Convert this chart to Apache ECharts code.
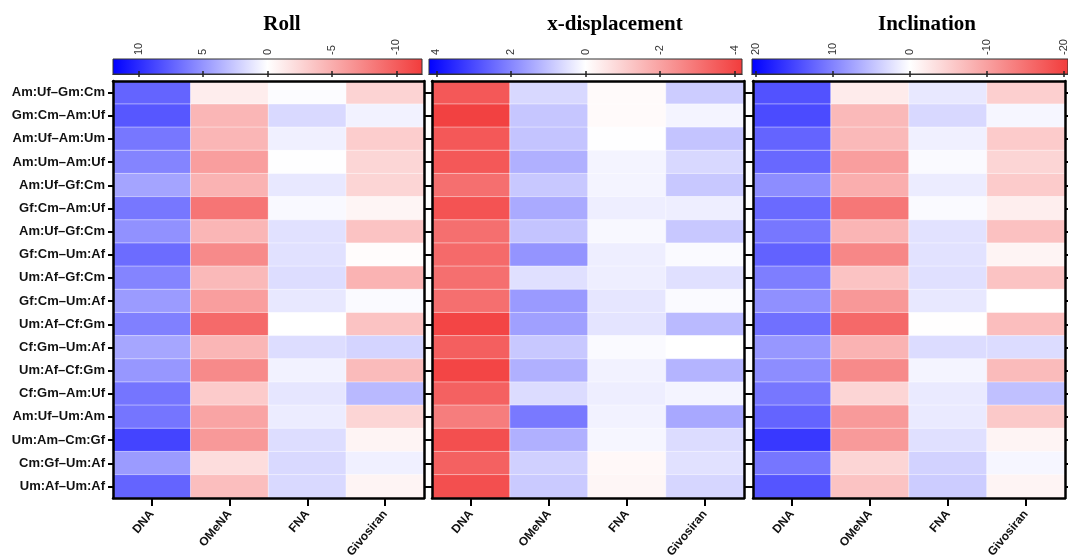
<!DOCTYPE html>
<html>
<head>
<meta charset="UTF-8">
<title>Roll / x-displacement / Inclination</title>
<script src="https://cdn.jsdelivr.net/npm/echarts@6/dist/echarts.min.js"></script>
<style>
  body { margin: 0; background: #fff; }
  #chart { width: 1068px; height: 560px; }
</style>
</head>
<body>
<div id="chart"></div>
<script>
// rows (top to bottom) and columns
var rows = ['Am:Uf–Gm:Cm', 'Gm:Cm–Am:Uf', 'Am:Uf–Am:Um', 'Am:Um–Am:Uf', 'Am:Uf–Gf:Cm', 'Gf:Cm–Am:Uf',
  'Am:Uf–Gf:Cm', 'Gf:Cm–Um:Af', 'Um:Af–Gf:Cm', 'Gf:Cm–Um:Af', 'Um:Af–Cf:Gm', 'Cf:Gm–Um:Af',
  'Um:Af–Cf:Gm', 'Cf:Gm–Am:Uf', 'Am:Uf–Um:Am', 'Um:Am–Cm:Gf', 'Cm:Gf–Um:Af', 'Um:Af–Um:Af'];
var cols = ['DNA', 'OMeNA', 'FNA', 'Givosiran'];

// Roll
var rollDNA   = [7.3, 7.9, 6.4, 5.8, 4.3, 6.4, 5.2, 6.9, 5.8, 4.7, 6.0, 4.2, 4.9, 6.5, 6.5, 8.8, 4.7, 7.3];
var rollOMeNA = [-1.1, -4.5, -4.5, -6.0, -4.7, -8.5, -4.5, -7.2, -4.3, -6.0, -9.2, -4.5, -7.2, -3.2, -5.6, -6.3, -2.1, -4.0];
var rollFNA   = [0.15, 1.8, 0.7, 0.05, 1.1, 0.3, 1.4, 1.4, 1.6, 1.1, 0, 1.6, 0.6, 1.2, 0.9, 1.6, 1.8, 1.8];
var rollGivo  = [-2.7, 0.6, -3.1, -2.5, -2.6, -0.6, -3.7, -0.2, -4.7, 0.25, -3.7, 2.0, -4.2, 3.3, -2.6, -0.7, 0.7, -0.7];

// x-displacement
var xdDNA   = [-3.6, -4.1, -3.6, -3.6, -3.1, -3.7, -3.1, -3.2, -3.1, -3.1, -4.0, -3.45, -4.0, -3.4, -2.8, -3.8, -3.4, -3.8];
var xdOMeNA = [0.64, 0.94, 0.97, 1.3, 0.9, 1.4, 0.97, 1.76, 0.51, 1.66, 1.56, 0.9, 1.3, 0.58, 2.2, 1.3, 0.77, 0.87];
var xdFNA   = [-0.1, -0.1, 0.02, 0.18, 0.18, 0.28, 0.12, 0.28, 0.28, 0.41, 0.45, 0.08, 0.21, 0.28, 0.21, 0.15, -0.15, -0.2];
var xdGivo  = [0.84, 0.18, 0.97, 0.64, 0.9, 0.28, 0.9, 0.08, 0.51, 0.08, 1.14, 0, 1.24, 0.18, 1.43, 0.58, 0.5, 0.68];

// Inclination
var incDNA   = [13.9, 14.5, 12.5, 12.1, 9.2, 12.0, 10.9, 12.6, 10.4, 8.9, 11.5, 8.4, 9.2, 10.9, 12.5, 16.0, 11.0, 13.7];
var incOMeNA = [-2.1, -7.4, -7.4, -10.2, -8.5, -14.3, -7.8, -12.6, -6.3, -10.8, -15.8, -8.0, -12.3, -4.4, -10.6, -10.6, -4.4, -6.3];
var incFNA   = [1.85, 3.1, 1.2, 0.4, 1.5, 0.4, 2.3, 2.3, 2.5, 1.85, -0.1, 2.8, 0.9, 1.7, 1.7, 2.5, 3.6, 4.1];
var incGivo  = [-5.0, 0.7, -5.5, -4.4, -5.5, -1.8, -6.5, -1.2, -6.3, 0, -6.8, 2.8, -7.2, 5.1, -5.7, -1.2, 0.7, -1.2];

// colour bar ranges and ticks
var titles = ['Roll', 'x-displacement', 'Inclination'];
var ranges = [12, 4.2, 20.5];
var rollTicks = [10, 5, 0, -5, -10];
var xdTicks = [4, 2, 0, -2, -4];
var incTicks = [20, 10, 0, -10, -20];

var blue = '#0000ff', red = '#f23c3c';

var panels = [
  { cols: [rollDNA, rollOMeNA, rollFNA, rollGivo], ticks: rollTicks },
  { cols: [xdDNA, xdOMeNA, xdFNA, xdGivo], ticks: xdTicks },
  { cols: [incDNA, incOMeNA, incFNA, incGivo], ticks: incTicks }
];

var heatGrids = [
  { left: 113, top: 81, width: 311, height: 417 },
  { left: 432, top: 81, width: 312, height: 417 },
  { left: 753, top: 81, width: 312, height: 417 }
];
var barGrids = [
  { left: 113, top: 59, width: 309, height: 15 },
  { left: 429, top: 59, width: 313, height: 15 },
  { left: 752, top: 59, width: 316, height: 15 }
];
var titleX = [277, 610, 922];

var myChart = echarts.init(document.getElementById('chart'));

var grid = heatGrids.concat(barGrids).map(function (g) {
  g.outerBoundsMode = 'none';
  g.containLabel = false;
  return g;
});
var xAxis = [], yAxis = [], series = [], visualMap = [], title = [];
var frame = { show: true, lineStyle: { color: '#000', width: 2.5 } };

// heat x axes (bottom)
panels.forEach(function (p, i) {
  xAxis.push({
    type: 'category', gridIndex: i, data: cols, position: 'bottom', z: 5,
    axisLine: frame,
    axisTick: { show: true, alignWithLabel: true, length: 8, lineStyle: { color: '#000', width: 2 } },
    axisLabel: { rotate: 50, fontFamily: 'Liberation Sans', fontWeight: 'bold', fontSize: 12, color: '#111', margin: 14 },
    splitLine: { show: false }
  });
});
// heat x axes (top frame line)
panels.forEach(function (p, i) {
  xAxis.push({
    type: 'category', gridIndex: i, data: cols, position: 'top', z: 5,
    axisLine: frame, axisTick: { show: false }, axisLabel: { show: false }
  });
});
// colour bar axes (top with labels, bottom with ticks only)
panels.forEach(function (p, i) {
  xAxis.push({
    type: 'value', gridIndex: 3 + i, min: -ranges[i], max: ranges[i], inverse: true, position: 'top', z: 5,
    axisLine: { show: true, lineStyle: { color: '#333', width: 1 } },
    axisTick: { show: true, inside: true, length: 3, customValues: p.ticks, lineStyle: { color: '#222', width: 1.5 } },
    axisLabel: { show: true, rotate: 90, customValues: p.ticks, fontFamily: 'Liberation Sans', fontSize: 11, color: '#333', margin: 4 },
    splitLine: { show: false }
  });
});
panels.forEach(function (p, i) {
  xAxis.push({
    type: 'value', gridIndex: 3 + i, min: -ranges[i], max: ranges[i], inverse: true, position: 'bottom', z: 5,
    axisLine: { show: true, lineStyle: { color: '#333', width: 1 } },
    axisTick: { show: true, inside: true, length: 3, customValues: p.ticks, lineStyle: { color: '#222', width: 1.5 } },
    axisLabel: { show: false },
    splitLine: { show: false }
  });
});

// heat y axes (left with labels only on first panel)
panels.forEach(function (p, i) {
  yAxis.push({
    type: 'category', gridIndex: i, data: rows, inverse: true, position: 'left', z: 5,
    axisLine: frame,
    axisTick: { show: true, alignWithLabel: true, length: 5, lineStyle: { color: '#000', width: 2 } },
    axisLabel: { show: i === 0, fontFamily: 'Liberation Sans', fontWeight: 'bold', fontSize: 13, color: '#111', margin: 8 }
  });
});
panels.forEach(function (p, i) {
  yAxis.push({
    type: 'category', gridIndex: i, data: rows, inverse: true, position: 'right', z: 5,
    axisLine: frame,
    axisTick: { show: true, alignWithLabel: true, length: 4, lineStyle: { color: '#000', width: 2 } },
    axisLabel: { show: false }
  });
});
panels.forEach(function (p, i) {
  yAxis.push({ type: 'value', gridIndex: 3 + i, min: 0, max: 1, show: false });
});

// heatmaps
panels.forEach(function (p, i) {
  var data = [];
  p.cols.forEach(function (arr, c) {
    arr.forEach(function (v, r) { data.push([c, r, v]); });
  });
  series.push({
    type: 'heatmap', xAxisIndex: i, yAxisIndex: i, data: data,
    itemStyle: { borderColor: 'rgba(255,255,255,0.45)', borderWidth: 1 },
    emphasis: { disabled: true }
  });
  visualMap.push({
    type: 'continuous', seriesIndex: i, min: -ranges[i], max: ranges[i], show: false,
    inRange: { color: [red, '#ffffff', blue] }
  });
  title.push({
    text: titles[i], left: titleX[i], top: 9, textAlign: 'center',
    textStyle: { fontFamily: 'Liberation Serif', fontWeight: 'bold', fontSize: 21, color: '#000' }
  });
});

// colour bars
panels.forEach(function (p, i) {
  series.push({
    type: 'custom', xAxisIndex: 6 + i, yAxisIndex: 6 + i, silent: true,
    data: [[ranges[i], -ranges[i]]],
    renderItem: function (params, api) {
      var a = api.coord([api.value(0), 0]);
      var b = api.coord([api.value(1), 1]);
      return {
        type: 'rect',
        shape: { x: Math.min(a[0], b[0]), y: Math.min(a[1], b[1]), width: Math.abs(b[0] - a[0]), height: Math.abs(b[1] - a[1]) },
        style: {
          fill: new echarts.graphic.LinearGradient(0, 0, 1, 0, [
            { offset: 0, color: blue }, { offset: 0.5, color: '#ffffff' }, { offset: 1, color: red }
          ]),
          stroke: '#333', lineWidth: 1
        }
      };
    }
  });
});

myChart.setOption({
  animation: false,
  title: title,
  grid: grid,
  xAxis: xAxis,
  yAxis: yAxis,
  visualMap: visualMap,
  series: series
});
</script>
</body>
</html>
